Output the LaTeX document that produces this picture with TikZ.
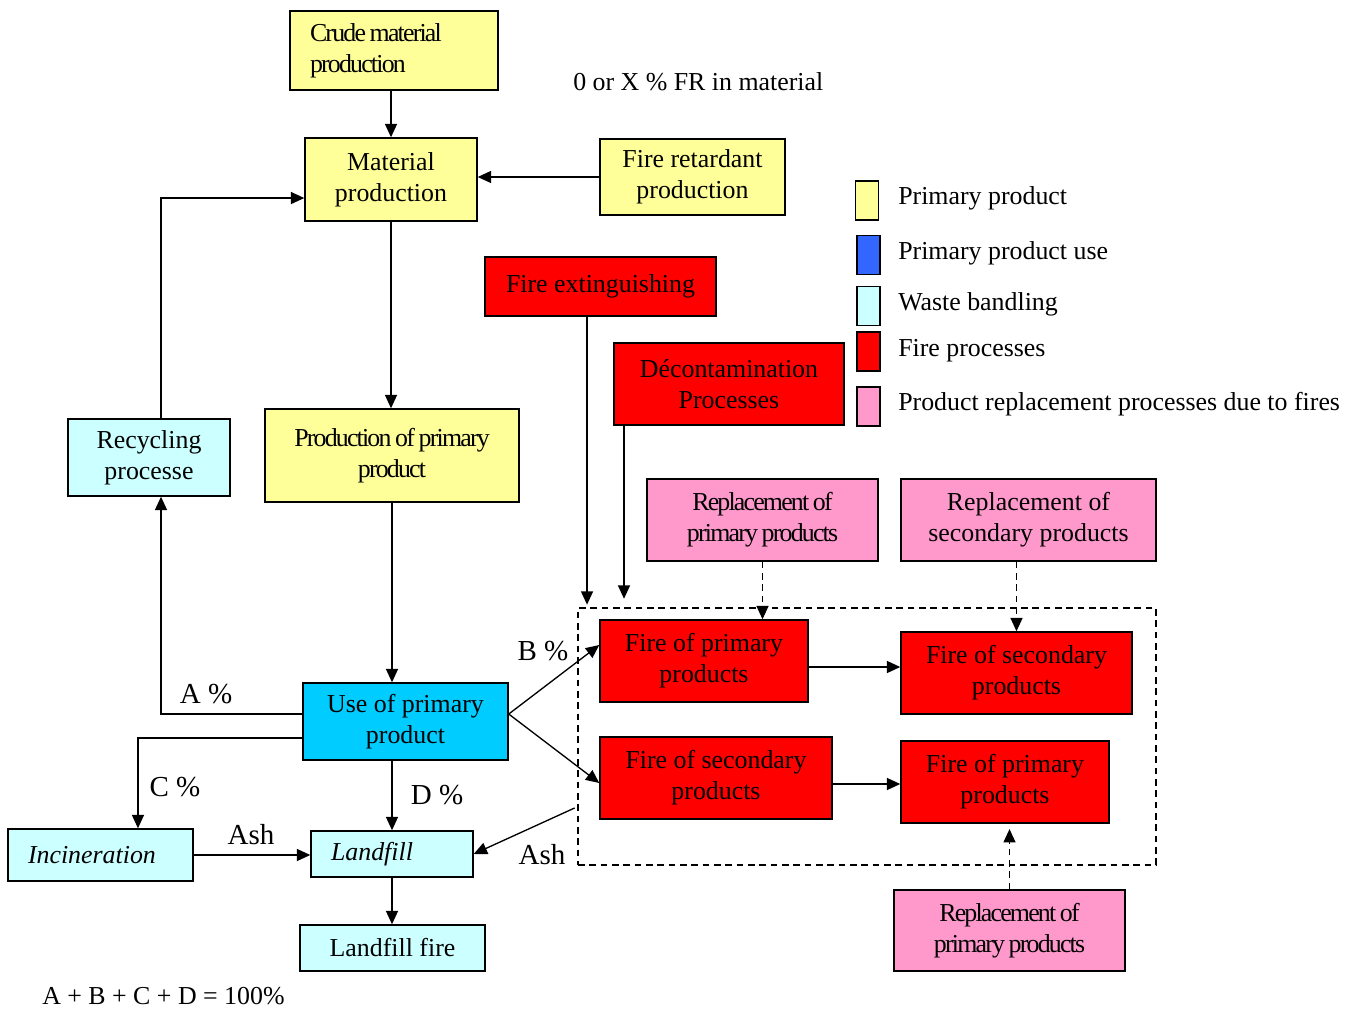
\documentclass[tikz,border=0pt]{standalone}
\usepackage{fontspec}
\setmainfont{Liberation Serif}
\newfontfamily\condf[LetterSpace=-7,WordSpace=0.8]{Liberation Serif}
\usetikzlibrary{arrows.meta,calc}
\definecolor{cyel}{HTML}{FFFF99}
\definecolor{cred}{HTML}{FF0000}
\definecolor{cpink}{HTML}{FF99CC}
\definecolor{clcy}{HTML}{CCFFFF}
\definecolor{ccy}{HTML}{00CCFF}
\definecolor{cblue}{HTML}{3366FF}
\newcommand\nsize{\fontsize{19.4pt}{23.3pt}\selectfont}
\newcommand\lsize{\fontsize{21.75pt}{26pt}\selectfont}
\newcommand\mybox[7]{\node[#6, minimum width={(#4-#2)*0.75pt}, minimum height={(#5-#3)*0.75pt}] (#1) at ({(#2+#4)/2},{(#3+#5)/2}) {#7};}
\begin{document}
\begin{tikzpicture}[x=0.75pt,y=-0.75pt,
  box/.style={draw, line width=1.1pt, align=center, inner sep=2pt, font=\nsize},
  yel/.style={box, fill=cyel},
  fire/.style={box, fill=cred},
  pnk/.style={box, fill=cpink},
  wst/.style={box, fill=clcy},
  usebox/.style={box, fill=ccy},
  cond/.style={font=\nsize\condf},
  lbox/.style={align=flush left, inner xsep=15pt},
  arr/.style={-{Triangle[length=10pt,width=9pt]}, line width=1pt},
  dsh/.style={dash pattern=on 5pt off 3.5pt},
  lbl/.style={font=\lsize, inner sep=0pt},
  txt/.style={font=\nsize, inner sep=0pt},
  leg/.style={draw, line width=1.1pt, minimum width=17pt, minimum height=29pt, inner sep=0pt}]
\useasboundingbox (0,0) rectangle (1360,1009);

% boxes
\mybox{crude}{290}{11}{498}{90}{yel,cond,lbox,text width=126pt}{Crude material\\production}
\mybox{mat}{305}{138}{477}{221}{yel}{Material\\production}
\mybox{fr}{600}{139}{785}{215}{yel}{Fire retardant\\production}
\mybox{fext}{485}{257}{716}{316}{fire}{Fire extinguishing}
\mybox{dec}{614}{343}{844}{425}{fire}{Décontamination\\Processes}
\mybox{rec}{68}{419}{230}{496}{wst}{Recycling\\processe}
\mybox{ppp}{265}{409}{519}{502}{yel,cond}{Production of primary\\product}
\mybox{rp1}{647}{479}{878}{561}{pnk,cond}{Replacement of\\primary products}
\mybox{rs}{901}{479}{1156}{561}{pnk}{Replacement of\\secondary products}
\mybox{grp}{578}{608}{1156}{865}{draw, line width=1pt, dsh}{}
\mybox{fp1}{600}{620}{808}{702}{fire}{Fire of primary\\products}
\mybox{fs1}{901}{632}{1132}{714}{fire}{Fire of secondary\\products}
\mybox{fs2}{600}{737}{832}{819}{fire}{Fire of secondary\\products}
\mybox{fp2}{901}{741}{1109}{823}{fire}{Fire of primary\\products}
\mybox{rp2}{894}{890}{1125}{971}{pnk,cond}{Replacement of\\primary products}
\mybox{use}{303}{683}{508}{760}{usebox}{Use of primary\\product}
\mybox{inc}{8}{829}{193}{881}{wst,lbox,text width=108.75pt,font=\nsize\itshape}{Incineration}
\mybox{lf}{311}{831}{473}{877}{wst,lbox,text width=91.5pt,font=\nsize\itshape}{Landfill}
\mybox{lff}{300}{925}{485}{971}{wst}{Landfill fire}

% free texts
\node[txt, anchor=west] (frtxt) at (573,82) {0 or X \% FR in material};
\node[txt, anchor=west] (sum) at (42,996) {A + B + C + D = 100\%};

% labels
\node[lbl] (la) at (206,694) {A \%};
\node[lbl] (lb) at (543,651) {B \%};
\node[lbl] (lc) at (175,787) {C \%};
\node[lbl] (ld) at (437,795) {D \%};
\node[lbl] (lash1) at (251,835) {Ash};
\node[lbl] (lash2) at (542,855) {Ash};

% legend
\node[leg, fill=cyel] (l1) at (867,200.5) {};
\node[leg, fill=cblue] (l2) at (868.5,255) {};
\node[leg, fill=clcy] (l3) at (868.5,306) {};
\node[leg, fill=cred] (l4) at (868.5,351.5) {};
\node[leg, fill=cpink] (l5) at (868.5,406.5) {};
\node[txt, anchor=west] (t1) at (898,198) {Primary product};
\node[txt, anchor=west] (t2) at (898,253) {Primary product use};
\node[txt, anchor=west] (t3) at (898,304) {Waste bandling};
\node[txt, anchor=west] (t4) at (898,351) {Fire processes};
\node[txt, anchor=west] (t5) at (898,404) {Product replacement processes due to fires};

% connectors
\draw[arr] (mat.north |- crude.south) -- (mat.north);
\draw[arr] (fr.west) -- (fr.west -| mat.east);
\draw[arr] (mat.south) -- (mat.south |- ppp.north);
\draw[arr] (ppp.south) -- (ppp.south |- use.north);
\draw[arr] ([xshift=9pt]rec.north) |- ([yshift=-13.9pt]mat.west);
\draw[arr] ([yshift=5.6pt]use.west) -| ([xshift=9pt]rec.south);
\draw[arr] ([yshift=-12.4pt]use.west) -| ([xshift=28.1pt]inc.north);
\draw[arr] (lf.north |- use.south) -- (lf.north);
\draw[arr] (inc.east) -- (inc.east -| lf.west);
\draw[arr] ([yshift=-53.6pt,xshift=-2pt]grp.west) -- (lf.east);
\draw[arr] (lf.south) -- (lf.south |- lff.north);
\draw[arr] ([yshift=5.6pt]use.east) -- ([yshift=12pt]fp1.west);
\draw[arr] ([yshift=5.6pt]use.east) -- ([yshift=-3.75pt]fs2.west);
\draw[arr, shorten >=2pt] ([xshift=-10.1pt]fext.south) -- ([xshift=-10.1pt]fext.south |- grp.north);
\draw[arr] ([xshift=-78.75pt]dec.south) -- ++(0,173);
\draw[arr] ([yshift=-4.5pt]fp1.east) -- ([yshift=-4.5pt]fp1.east -| fs1.west);
\draw[arr] ([yshift=-4.5pt]fs2.east) -- ([yshift=-4.5pt]fs2.east -| fp2.west);
\draw[arr, dsh] (rp1.south) -- (rp1.south |- fp1.north);
\draw[arr, dsh] (fs1.north |- rs.south) -- (fs1.north);
\draw[arr, dsh, shorten >=4pt] (rp2.north) -- (rp2.north |- fp2.south);
\end{tikzpicture}
\end{document}
